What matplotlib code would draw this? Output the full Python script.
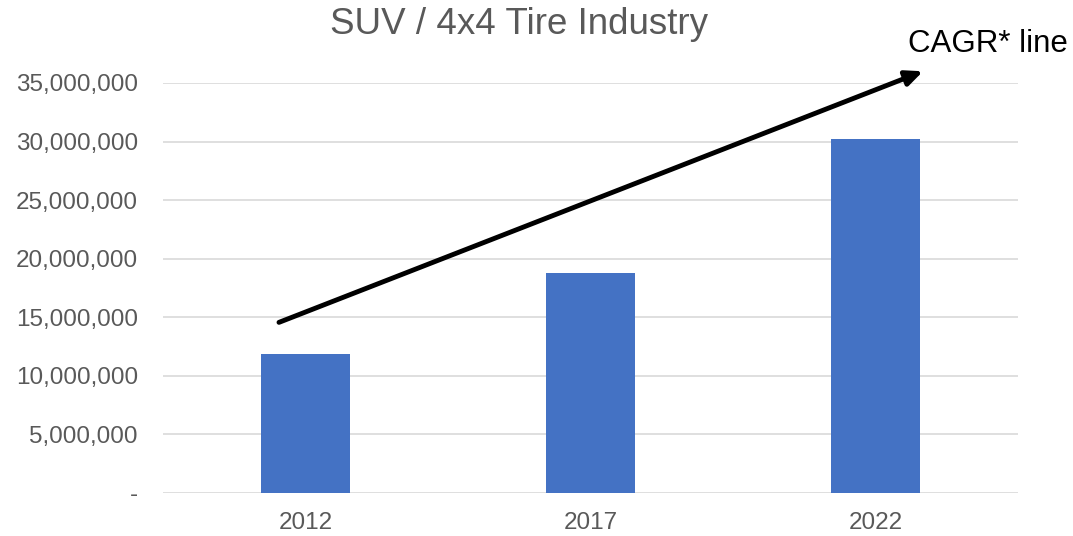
import matplotlib
matplotlib.use("Agg")
from matplotlib import pyplot as plt

years = ["2012", "2017", "2022"]
tires = [11_890_000, 18_750_000, 30_230_000]
yticks = [0, 5_000_000, 10_000_000, 15_000_000, 20_000_000, 25_000_000, 30_000_000, 35_000_000]

# CAGR arrow endpoints (category position, value)
cagr_start = (-0.093, 14_550_000)
cagr_end = (2.167, 36_000_000)

plt.rcParams['font.family'] = ['Liberation Sans', 'DejaVu Sans']

fig = plt.figure(figsize=(10.73, 5.36), dpi=100)
ax = fig.add_axes([0.1519, 0.0808, 0.7968, 0.7644])

x = range(len(years))
ax.bar(x, tires, width=0.31, color="#4472C4", zorder=3)

ax.set_xlim(-0.5, 2.5)
ax.set_ylim(0, 35_000_000)
ax.set_xticks(list(x))
ax.set_xticklabels(years)
ax.set_yticks(yticks)
ax.set_yticklabels([f"{v:,}" if v else "-" for v in yticks])

ax.grid(axis="y", color="#d9d9d9", linewidth=1.2, zorder=0)
for s in ax.spines.values():
    s.set_visible(False)
ax.tick_params(length=0, labelsize=17.5, labelcolor="#595959")
ax.tick_params(axis="y", pad=18)
ax.tick_params(axis="x", pad=14)

fig.text(519 / 1073, 1 - 24 / 536, "SUV / 4x4 Tire Industry", ha="center", va="center",
         fontsize=26.5, color="#595959")

ax.annotate("", xy=cagr_end, xytext=cagr_start, annotation_clip=False,
            arrowprops=dict(arrowstyle="-|>,head_length=1.0,head_width=0.45",
                            color="black", lw=3.5, shrinkA=0, shrinkB=0))
fig.text(908 / 1073, 1 - 44 / 536, "CAGR* line", ha="left", va="center",
         fontsize=22.5, color="black")

fig.savefig("out.png", dpi=100)
